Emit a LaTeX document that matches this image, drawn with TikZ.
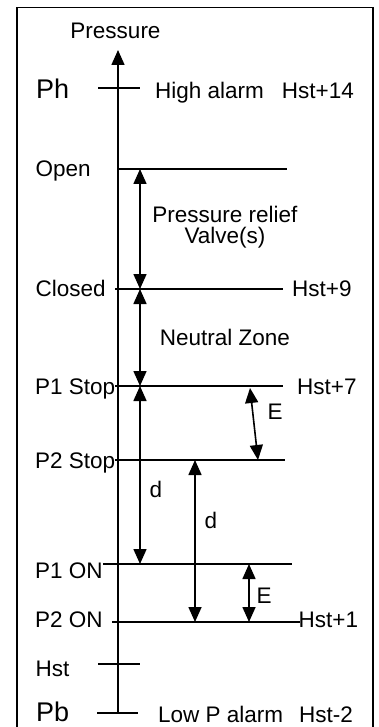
\documentclass[tikz,border=0pt]{standalone}
\usepackage{fontspec}
\setmainfont{Liberation Sans}
\usetikzlibrary{arrows.meta}

\begin{document}
\begin{tikzpicture}[x=1pt,y=-1pt,
 lvl/.style={line width=1.6pt},
 twoway/.style={line width=1.6pt,{Triangle[length=15pt,width=13pt]}-{Triangle[length=15pt,width=13pt]}},
 txt/.style={inner sep=0pt,font=\fontsize{22.5}{26}\selectfont},
 bigtxt/.style={inner sep=0pt,font=\fontsize{27}{32}\selectfont}]

\useasboundingbox (0,0) rectangle (379,727);

%frame
\draw[line width=1.6pt] (16.7,740) -- (16.7,7.5) -- (373,7.5) -- (373,740);

%pressure axis
\coordinate (ax0) at (118,712);
\coordinate (ax1) at (118,50);
\draw[line width=1.6pt,-{Triangle[length=15pt,width=13pt]}] (ax0) -- (ax1);
\node[txt,anchor=base] (pres) at (115.5,38.5) {Pressure};

%alarm ticks
\coordinate (ph1) at (98,88);  \coordinate (ph2) at (140,88);
\coordinate (hs1) at (98,664); \coordinate (hs2) at (140,664);
\coordinate (pb1) at (97,713); \coordinate (pb2) at (138,713);
\draw[lvl] (ph1) -- (ph2);
\draw[lvl] (hs1) -- (hs2);
\draw[lvl] (pb1) -- (pb2);

%levels
\coordinate (op1) at (118,169); \coordinate (op2) at (287,169);
\coordinate (cl1) at (115,289); \coordinate (cl2) at (283,289);
\coordinate (s11) at (115,386); \coordinate (s12) at (283,386);
\coordinate (s21) at (115,460); \coordinate (s22) at (285,460);
\coordinate (n11) at (103,564); \coordinate (n12) at (292,564);
\coordinate (n21) at (112,622); \coordinate (n22) at (300,622);
\foreach \a/\b in {op1/op2,cl1/cl2,s11/s12,s21/s22,n11/n12,n21/n22}
 \draw[lvl] (\a) -- (\b);

%left labels
\node[bigtxt,anchor=base west] (ph) at (36,99) {Ph};
\node[txt,anchor=base west] (open) at (35.5,176.5) {Open};
\node[txt,anchor=base west] (closed) at (35.5,296) {Closed};
\node[txt,anchor=base west] (p1stop) at (35,394) {P1 Stop};
\node[txt,anchor=base west] (p2stop) at (35,468) {P2 Stop};
\node[txt,anchor=base west] (p1on) at (35,578) {P1 ON};
\node[txt,anchor=base west] (p2on) at (35,627) {P2 ON};
\node[txt,anchor=base west] (hst) at (35.5,676) {Hst};
\node[bigtxt,anchor=base west] (pb) at (36,721) {Pb};

%right labels
\node[txt,anchor=base west] (high) at (155,99) {High alarm};
\node[txt,anchor=base east] (h14) at (354,99) {Hst+14};
\node[txt,anchor=base west] (h9) at (292,296) {Hst+9};
\node[txt,anchor=base west] (h7) at (297,394) {Hst+7};
\node[txt,anchor=base west] (h1) at (298.5,627) {Hst+1};
\node[txt,anchor=base west] (low) at (158,722) {Low P alarm};
\node[txt,anchor=base east] (hm2) at (353,722) {Hst-2};

%zones
\coordinate (ra) at (140,169); \coordinate (rb) at (140,289);
\coordinate (za) at (140,386);
\coordinate (da) at (140,564);
\coordinate (db) at (195,460); \coordinate (dc) at (195,622);
\coordinate (ea) at (250,388); \coordinate (eb) at (258,460);
\coordinate (fa) at (249,564); \coordinate (fb) at (249,622);
\draw[twoway] (ra) -- (rb);
\draw[twoway] (rb) -- (za);
\draw[twoway] (za) -- (da);
\draw[twoway] (db) -- (dc);
\draw[twoway] (ea) -- (eb);
\draw[twoway] (fa) -- (fb);

\node[txt,align=center,font=\fontsize{22.5}{20.5}\selectfont] (relief) at (225,227) {Pressure relief\\Valve(s)};
\node[txt,anchor=base] (neutral) at (225,345) {Neutral Zone};
\node[txt,anchor=base] (d1) at (156,497) {d};
\node[txt,anchor=base] (d2) at (211,528) {d};
\node[txt,anchor=base] (e1) at (275,419) {E};
\node[txt,anchor=base] (e2) at (264,603) {E};

\end{tikzpicture}
\end{document}
